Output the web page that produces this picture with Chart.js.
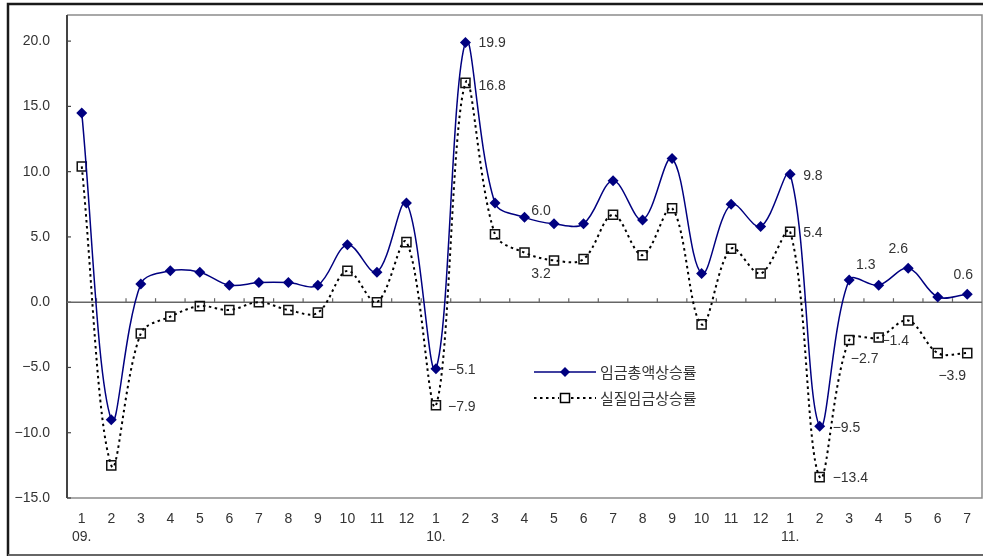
<!DOCTYPE html>
<html>
<head>
<meta charset="utf-8">
<script src="https://cdn.jsdelivr.net/npm/chart.js@4/dist/chart.umd.min.js"></script>
<style>
  html, body { margin: 0; padding: 0; background: #fff; }
  canvas { display: block; }
</style>
</head>
<body>
<canvas id="wage" width="983" height="556"></canvas>
<script>
// Monthly categories, Jan 2009 – Jul 2011
const months = ['1','2','3','4','5','6','7','8','9','10','11','12',
                '1','2','3','4','5','6','7','8','9','10','11','12',
                '1','2','3','4','5','6','7'];
const years = ['09.', '10.', '11.'];

// Year-on-year growth rates (%)
const nominalWage = [14.5, -9.0, 1.4, 2.4, 2.3, 1.3, 1.5, 1.5, 1.3, 4.4, 2.3, 7.6,
                     -5.1, 19.9, 7.6, 6.5, 6.0, 6.0, 9.3, 6.3, 11.0, 2.2, 7.5, 5.8,
                     9.8, -9.5, 1.7, 1.3, 2.6, 0.4, 0.6];
const realWage    = [10.4, -12.5, -2.4, -1.1, -0.3, -0.6, 0.0, -0.6, -0.8, 2.4, 0.0, 4.6,
                     -7.9, 16.8, 5.2, 3.8, 3.2, 3.3, 6.7, 3.6, 7.2, -1.7, 4.1, 2.2,
                     5.4, -13.4, -2.9, -2.7, -1.4, -3.9, -3.9];

const seriesNames = ['임금총액상승률', '실질임금상승률'];
const yTicks = [-15, -10, -5, 0, 5, 10, 15, 20];

// Build two-line category labels: month, plus the year under each January
let yearIdx = 0;
const categories = months.map(m => (m === '1' ? [m, years[yearIdx++]] : m));

// Which points carry a value label, and where the text sits relative to the point
const valueLabels = [
  { s: 0, i: 12, dx: 12, dy: 1, align: 'left' },
  { s: 0, i: 13, dx: 13, dy: 1, align: 'left' },
  { s: 0, i: 16, dx: -13, dy: -13, align: 'center' },
  { s: 0, i: 24, dx: 13, dy: 2, align: 'left' },
  { s: 0, i: 25, dx: 13, dy: 2, align: 'left' },
  { s: 0, i: 27, dx: -13, dy: -20, align: 'center' },
  { s: 0, i: 28, dx: -10, dy: -19, align: 'center' },
  { s: 0, i: 30, dx: -4, dy: -19, align: 'center' },
  { s: 1, i: 12, dx: 12, dy: 2, align: 'left' },
  { s: 1, i: 13, dx: 13, dy: 3, align: 'left' },
  { s: 1, i: 16, dx: -13, dy: 14, align: 'center' },
  { s: 1, i: 24, dx: 13, dy: 1, align: 'left' },
  { s: 1, i: 25, dx: 13, dy: 1, align: 'left' },
  { s: 1, i: 27, dx: -14, dy: 22, align: 'center' },
  { s: 1, i: 28, dx: -13, dy: 21, align: 'center' },
  { s: 1, i: 30, dx: -15, dy: 23, align: 'center' }
];

const FONT = '"Liberation Sans", Arial, sans-serif';
const TEXT = '#333';
const NAVY = '#000080';

function fmt(v) {
  return (v < 0 ? '\u2212' : '') + Math.abs(v).toFixed(1);
}

function seg(ctx, x1, y1, x2, y2) {
  ctx.beginPath(); ctx.moveTo(x1, y1); ctx.lineTo(x2, y2); ctx.stroke();
}

// Frames, axis lines, zero line and the small tick marks
const framePlugin = {
  id: 'framePlugin',
  beforeDatasetsDraw(chart) {
    const { ctx, chartArea: a, scales: { x, y } } = chart;
    ctx.save();
    // outer border
    ctx.strokeStyle = '#1a1a1a';
    ctx.lineWidth = 2.5;
    ctx.beginPath(); ctx.moveTo(8, 556); ctx.lineTo(8, 4); ctx.lineTo(990, 4); ctx.stroke();
    ctx.strokeStyle = '#666';
    ctx.lineWidth = 2;
    seg(ctx, 8, 555, 990, 555);
    // plot box
    ctx.strokeStyle = '#8c8c8c';
    ctx.lineWidth = 1.5;
    ctx.beginPath();
    ctx.moveTo(a.left, a.top); ctx.lineTo(a.right, a.top);
    ctx.lineTo(a.right, a.bottom); ctx.lineTo(a.left, a.bottom);
    ctx.stroke();
    // value axis
    ctx.strokeStyle = '#444';
    ctx.lineWidth = 2;
    seg(ctx, a.left, a.top, a.left, a.bottom);
    ctx.lineWidth = 1.2;
    yTicks.forEach(v => {
      const py = y.getPixelForValue(v);
      seg(ctx, a.left, py, a.left + 4, py);
    });
    // zero line with category tick marks
    const z = y.getPixelForValue(0);
    ctx.strokeStyle = '#666';
    ctx.lineWidth = 1.5;
    seg(ctx, a.left, z, a.right, z);
    const step = x.getPixelForValue(1) - x.getPixelForValue(0);
    ctx.lineWidth = 1.2;
    for (let i = 1; i < months.length; i++) {
      const px = x.getPixelForValue(i) - step / 2;
      seg(ctx, px, z, px, z - 4);
    }
    ctx.restore();
  },
  afterDatasetsDraw(chart) {
    const { ctx } = chart;
    ctx.save();
    // value labels
    ctx.font = '14px ' + FONT;
    ctx.fillStyle = TEXT;
    ctx.textBaseline = 'middle';
    valueLabels.forEach(l => {
      const el = chart.getDatasetMeta(l.s).data[l.i];
      const v = chart.data.datasets[l.s].data[l.i];
      ctx.textAlign = l.align;
      ctx.fillText(fmt(v), el.x + l.dx, el.y + l.dy);
    });
    // legend
    const lx = 534, lw = 62, rows = [372, 398];
    ctx.lineWidth = 1.5;
    ctx.strokeStyle = NAVY;
    seg(ctx, lx, rows[0], lx + lw, rows[0]);
    ctx.fillStyle = NAVY;
    ctx.beginPath();
    const cx = lx + lw / 2;
    ctx.moveTo(cx, rows[0] - 5); ctx.lineTo(cx + 5, rows[0]);
    ctx.lineTo(cx, rows[0] + 5); ctx.lineTo(cx - 5, rows[0]);
    ctx.closePath(); ctx.fill();
    ctx.strokeStyle = '#000';
    ctx.setLineDash([2.5, 3.5]);
    ctx.lineWidth = 2;
    seg(ctx, lx, rows[1], cx - 6, rows[1]);
    seg(ctx, cx + 6, rows[1], lx + lw, rows[1]);
    ctx.setLineDash([]);
    ctx.lineWidth = 1.5;
    ctx.strokeRect(cx - 4.5, rows[1] - 4.5, 9, 9);
    ctx.font = '15px "Noto Sans CJK KR", sans-serif';
    ctx.fillStyle = TEXT;
    ctx.textAlign = 'left';
    ctx.fillText(seriesNames[0], lx + lw + 4, rows[0]);
    ctx.fillText(seriesNames[1], lx + lw + 4, rows[1]);
    ctx.restore();
  }
};

new Chart(document.getElementById('wage'), {
  type: 'line',
  data: {
    labels: categories,
    datasets: [
      {
        label: seriesNames[0],
        data: nominalWage,
        borderColor: NAVY,
        backgroundColor: NAVY,
        borderWidth: 1.5,
        tension: 0.35,
        pointStyle: 'rectRot',
        pointRadius: 5.5,
        pointBorderWidth: 0,
        pointBackgroundColor: NAVY,
        order: 1
      },
      {
        label: seriesNames[1],
        data: realWage,
        borderColor: '#000',
        borderWidth: 2,
        borderDash: [2.5, 3.5],
        tension: 0.35,
        pointStyle: 'rect',
        pointRadius: 6.4,
        pointBorderWidth: 1.5,
        pointBorderColor: '#111',
        pointBackgroundColor: 'rgba(255,255,255,0)',
        order: 2
      }
    ]
  },
  options: {
    responsive: false,
    animation: false,
    devicePixelRatio: 1,
    layout: { autoPadding: false, padding: { left: 0, top: 15, right: 1, bottom: 0 } },
    plugins: {
      legend: { display: false },
      tooltip: { enabled: false }
    },
    scales: {
      x: {
        type: 'category',
        offset: true,
        border: { display: false },
        grid: { display: false, drawTicks: false },
        ticks: {
          color: TEXT,
          font: { family: FONT, size: 14, lineHeight: 1.3 },
          padding: 12,
          maxRotation: 0,
          autoSkip: false
        },
        afterFit(scale) {
          scale.height = 58;
          scale.paddingLeft = 0;
          scale.paddingRight = 0;
        }
      },
      y: {
        min: -15,
        max: 22,
        border: { display: false },
        grid: { display: false, drawTicks: false },
        ticks: {
          stepSize: 5,
          includeBounds: false,
          color: TEXT,
          font: { family: FONT, size: 14 },
          padding: 17,
          callback: v => fmt(v)
        },
        afterBuildTicks(scale) { scale.ticks = yTicks.map(v => ({ value: v })); },
        afterFit(scale) {
          scale.width = 67;
          scale.paddingTop = 0;
          scale.paddingBottom = 0;
        }
      }
    }
  },
  plugins: [framePlugin]
});
</script>
</body>
</html>
